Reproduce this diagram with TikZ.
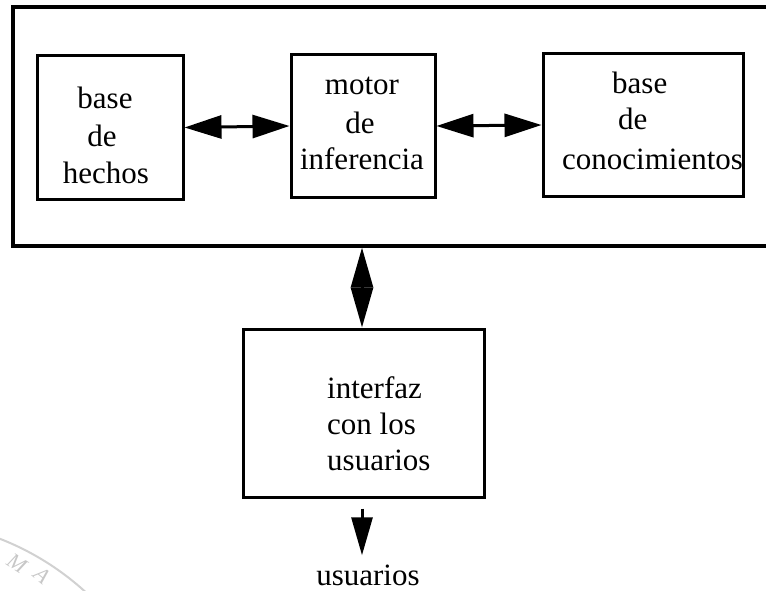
\documentclass[tikz,border=0pt]{standalone}
\usepackage{fontspec}
\setmainfont{Liberation Serif}
\usetikzlibrary{arrows.meta}
\begin{document}
\begin{tikzpicture}[x=1pt,y=-1pt,
  blk/.style={draw, line width=3pt, inner sep=0pt},
  frame/.style={draw, line width=3.3pt, inner sep=0pt},
  txt/.style={inner sep=0pt, font=\fontsize{31}{37}\selectfont},
  wmtxt/.style={inner sep=0pt, text=black!22, font=\fontsize{22}{22}\selectfont\itshape},
  harrow/.style={line width=3pt, {Triangle[length=37pt,width=23pt]}-{Triangle[length=37pt,width=23pt]}},
  varrow/.style={line width=3pt, {Triangle[length=40pt,width=22pt]}-{Triangle[length=40pt,width=22pt]}},
  darrow/.style={line width=3pt, -{Triangle[length=38pt,width=21pt]}},
  wm/.style={draw=black!18, line width=2pt}]
\useasboundingbox (0,0) rectangle (766,591);
% watermark fragment
\draw[wm] (-100,795) ++(-76:275) arc[start angle=-76, end angle=-44, radius=275];
\node[wmtxt, rotate=-33] (wm1) at (17,563) {M};
\node[wmtxt, rotate=-40] (wm2) at (42,575) {A};
% outer frame (cut by right edge)
\node[frame, minimum width=777pt, minimum height=239pt] (outer) at (401.5,126.5) {};
% boxes
\node[blk, minimum width=146pt, minimum height=143pt] (b1) at (110,127.5) {};
\node[blk, minimum width=144pt, minimum height=142pt] (b2) at (363,126) {};
\node[blk, minimum width=200pt, minimum height=142pt] (b3) at (643,125) {};
\node[blk, minimum width=241pt, minimum height=168pt] (b4) at (363.5,413) {};
% texts
\node[txt, anchor=base] (t1a) at (105,109) {base};
\node[txt, anchor=base] (t1b) at (102,147) {de};
\node[txt, anchor=base] (t1c) at (106,184) {hechos};
\node[txt, anchor=base] (t2a) at (362,95) {motor};
\node[txt, anchor=base] (t2b) at (360,134) {de};
\node[txt, anchor=base] (t2c) at (362,170) {inferencia};
\node[txt, anchor=base west] (t3a) at (612,94) {base};
\node[txt, anchor=base west] (t3b) at (618,130) {de};
\node[txt, anchor=base west] (t3c) at (562,170) {conocimientos};
\node[txt, anchor=base west] (t4a) at (327,398) {interfaz};
\node[txt, anchor=base west] (t4b) at (327,434) {con los};
\node[txt, anchor=base west] (t4c) at (327,470) {usuarios};
\node[txt, anchor=base] (u) at (368,585) {usuarios};
% connectors
\coordinate (ax) at (362,0);
\draw[harrow] (b1.east) -- (b2.west);
\draw[harrow] (b2.east) -- (b3.west);
\draw[varrow] (outer.south -| ax) -- (b4.north -| ax);
\draw[darrow, shorten <=10pt, shorten >=9pt] (b4.south -| ax) -- (u.north -| ax);
\end{tikzpicture}
\end{document}
